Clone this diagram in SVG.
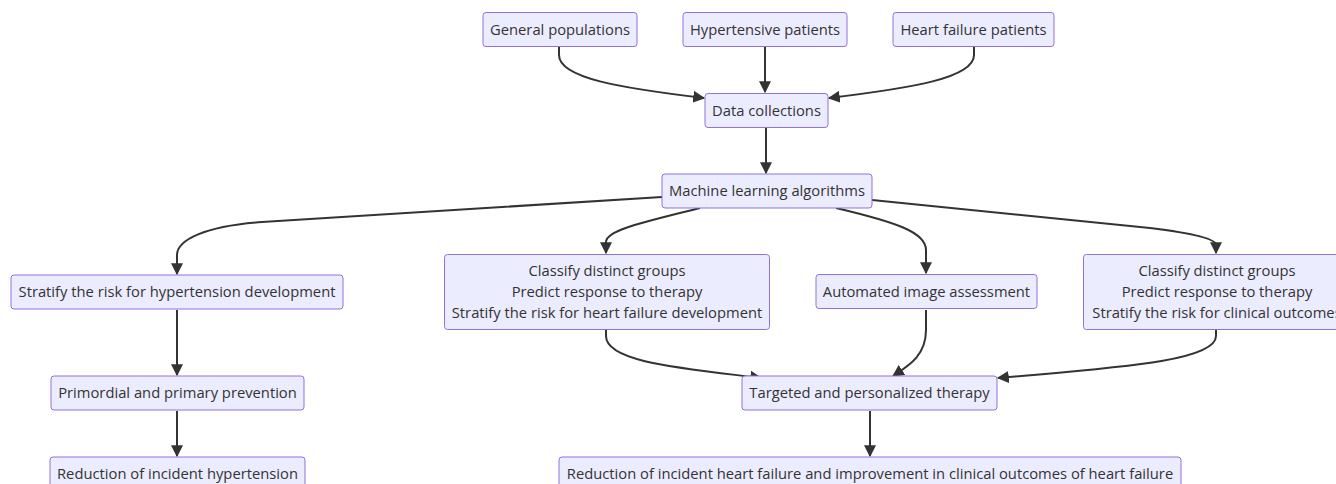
<svg xmlns="http://www.w3.org/2000/svg" width="1336" height="484" viewBox="0 0 1336 484">
<defs>
<style>
.n rect{fill:#ECECFF;stroke:#9370DB;stroke-width:1}
.n text{font-family:"Open Sans","Noto Sans",sans-serif;font-size:14.75px;fill:#333333;text-anchor:middle;dominant-baseline:central}
.e path{fill:none;stroke:#333333;stroke-width:2;marker-end:url(#ah)}
</style>
<marker id="ah" viewBox="0 0 10 10" refX="9" refY="5" markerWidth="12" markerHeight="12" markerUnits="userSpaceOnUse" orient="auto">
<path d="M0,0 L10,5 L0,10 z" fill="#333333"/>
</marker>
</defs>
<rect width="1336" height="484" fill="#ffffff"/>
<g class="e" id="connectors">
<path d="M559,47 L559,55 C559,78 620,88 704,98"/>
<path d="M765,47 L765,92"/>
<path d="M974,47 L974,55 C974,78 912,88 829,98"/>
<path d="M766,128 L766,173"/>
<path d="M662,197 L262,222 C205,226 177,240 177,255 L177,274"/>
<path d="M700,208 C645,222 606,230 606,242 L606,253"/>
<path d="M836,208 C895,222 926,232 926,250 L926,273"/>
<path d="M872,200 L1150,228 C1200,234 1216,240 1216,245 L1216,253"/>
<path d="M177,310 L177,375"/>
<path d="M177,411 L177,456"/>
<path d="M606,330 L606,336 C606,362 680,368 761,378"/>
<path d="M926,310 L926,330 C926,356 908,366 893,376"/>
<path d="M1216,330 L1216,336 C1216,362 1110,368 998,378"/>
<path d="M870,411 L870,456"/>
</g>
<g class="n" id="general"><rect x="483" y="12.5" width="154" height="34" rx="3"/><text x="560" y="28.5">General populations</text></g>
<g class="n" id="hypertensive"><rect x="683" y="12.5" width="164" height="34" rx="3"/><text x="765" y="28.5">Hypertensive patients</text></g>
<g class="n" id="heartfailure"><rect x="893" y="12.5" width="161" height="34" rx="3"/><text x="973.5" y="28.5">Heart failure patients</text></g>
<g class="n" id="data"><rect x="705" y="93.5" width="123" height="34" rx="3"/><text x="766.5" y="109.5">Data collections</text></g>
<g class="n" id="ml"><rect x="662" y="174" width="210" height="34" rx="3"/><text x="767" y="190">Machine learning algorithms</text></g>
<g class="n" id="stratifyht"><rect x="11" y="275" width="332" height="34" rx="3"/><text x="177" y="291">Stratify the risk for hypertension development</text></g>
<g class="n" id="classifyhf"><rect x="444.5" y="254.5" width="325" height="75" rx="3"/><text x="607" y="270">Classify distinct groups</text><text x="607" y="291">Predict response to therapy</text><text x="607" y="312">Stratify the risk for heart failure development</text></g>
<g class="n" id="automated"><rect x="816" y="274.5" width="221" height="34" rx="3"/><text x="926.5" y="290.5">Automated image assessment</text></g>
<g class="n" id="classifyco"><rect x="1083.5" y="254.5" width="268" height="75" rx="3"/><text x="1217" y="270">Classify distinct groups</text><text x="1217" y="291">Predict response to therapy</text><text x="1217" y="312">Stratify the risk for clinical outcomes</text></g>
<g class="n" id="primordial"><rect x="51" y="376" width="253" height="34" rx="3"/><text x="177.5" y="392">Primordial and primary prevention</text></g>
<g class="n" id="targeted"><rect x="742" y="376" width="255" height="34" rx="3"/><text x="869.5" y="392">Targeted and personalized therapy</text></g>
<g class="n" id="reductionht"><rect x="50" y="457" width="255" height="34" rx="3"/><text x="177.5" y="473">Reduction of incident hypertension</text></g>
<g class="n" id="reductionhf"><rect x="559" y="457" width="622" height="34" rx="3"/><text x="870" y="473">Reduction of incident heart failure and improvement in clinical outcomes of heart failure</text></g>
</svg>
